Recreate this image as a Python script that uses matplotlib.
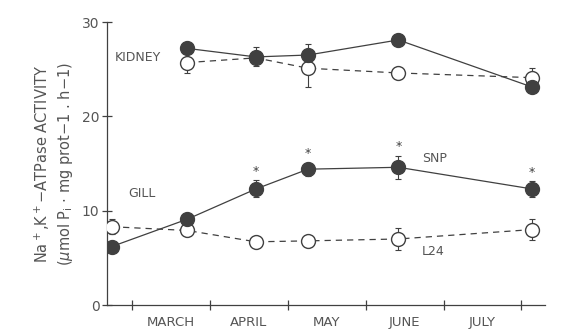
import numpy as np
import matplotlib.pyplot as plt

# sampling positions along the month axis (tick 1 = start of March)
x_gill = [0.74, 1.71, 2.59, 3.26, 4.42, 6.14]
x_kidney = [1.71, 2.59, 3.26, 4.42, 6.14]

# Na+,K+-ATPase activity
gill_snp = [6.2, 9.1, 12.3, 14.4, 14.6, 12.3]
gill_snp_err = [0.0, 0.0, 0.9, 0.7, 1.2, 0.8]
gill_l24 = [8.3, 7.9, 6.7, 6.8, 7.0, 8.0]
gill_l24_err = [0.8, 0.0, 0.0, 0.0, 1.2, 1.1]

kidney_snp = [27.2, 26.3, 26.5, 28.1, 23.1]
kidney_snp_err = [0.0, 1.0, 1.2, 0.0, 0.0]
kidney_l24 = [25.7, 26.2, 25.1, 24.6, 24.1]
kidney_l24_err = [1.1, 0.0, 2.0, 0.0, 1.0]

# asterisks above significant gill SNP points
star_idx = [2, 3, 4, 5]

months = ['MARCH', 'APRIL', 'MAY', 'JUNE', 'JULY']
month_pos = [1.5, 2.5, 3.5, 4.5, 5.5]

ink = '#404040'
txt = '#555555'

fig = plt.figure(figsize=(5.61, 3.31), dpi=100)
ax = fig.add_axes([0.191, 0.0785, 0.78, 0.855])

def draw(x, y, err, filled, ls):
    ax.plot(x, y, color=ink, lw=0.9, ls=ls, dashes=(5, 4) if ls == '--' else (None, None), zorder=2)
    ax.errorbar(x, y, yerr=err, fmt='none', ecolor=ink, elinewidth=0.8,
                capsize=2, capthick=0.8, zorder=1)
    ax.plot(x, y, ls='none', marker='o', ms=10,
            mfc=ink if filled else 'white', mec=ink, mew=1.0, zorder=3)

draw(x_kidney, kidney_l24, kidney_l24_err, False, '--')
draw(x_kidney, kidney_snp, kidney_snp_err, True, '-')
draw(x_gill, gill_l24, gill_l24_err, False, '--')
draw(x_gill, gill_snp, gill_snp_err, True, '-')

for i in star_idx:
    ax.text(x_gill[i], gill_snp[i] + gill_snp_err[i] + 0.3, '*', ha='center',
            va='bottom', fontsize=9, color=ink)

ax.text(0.78, 26.2, 'KIDNEY', fontsize=9, color=txt, va='center')
ax.text(0.95, 11.8, 'GILL', fontsize=9, color=txt, va='center')
ax.text(4.72, 15.5, 'SNP', fontsize=9, color=txt, va='center')
ax.text(4.72, 5.7, 'L24', fontsize=9, color=txt, va='center')

ax.set_xlim(0.68, 6.3)
ax.set_ylim(0, 30)
ax.spines['top'].set_visible(False)
ax.spines['right'].set_visible(False)
for s in ['left', 'bottom']:
    ax.spines[s].set_color(ink)
    ax.spines[s].set_linewidth(0.9)

ax.set_yticks([0, 10, 20, 30])
ax.tick_params(axis='y', direction='inout', length=7, width=0.9, color=ink,
               labelsize=10, labelcolor=txt, pad=2)
ax.set_xticks([1, 2, 3, 4, 5, 6])
ax.set_xticklabels([])
ax.tick_params(axis='x', which='major', direction='inout', length=7, width=0.9, color=ink)
ax.set_xticks(month_pos, minor=True)
ax.set_xticklabels(months, minor=True)
ax.tick_params(axis='x', which='minor', length=0, labelsize=9.5, labelcolor=txt, pad=8)

ax.set_ylabel('Na$^+$,K$^+$$-$ATPase ACTIVITY\n'
              r'($\mu$mol P$_\mathrm{i}$ $\cdot$ mg prot$-$1 . h$-$1)',
              fontsize=10.5, color=txt, labelpad=5, linespacing=1.25)

fig.savefig('out.png', dpi=100)
